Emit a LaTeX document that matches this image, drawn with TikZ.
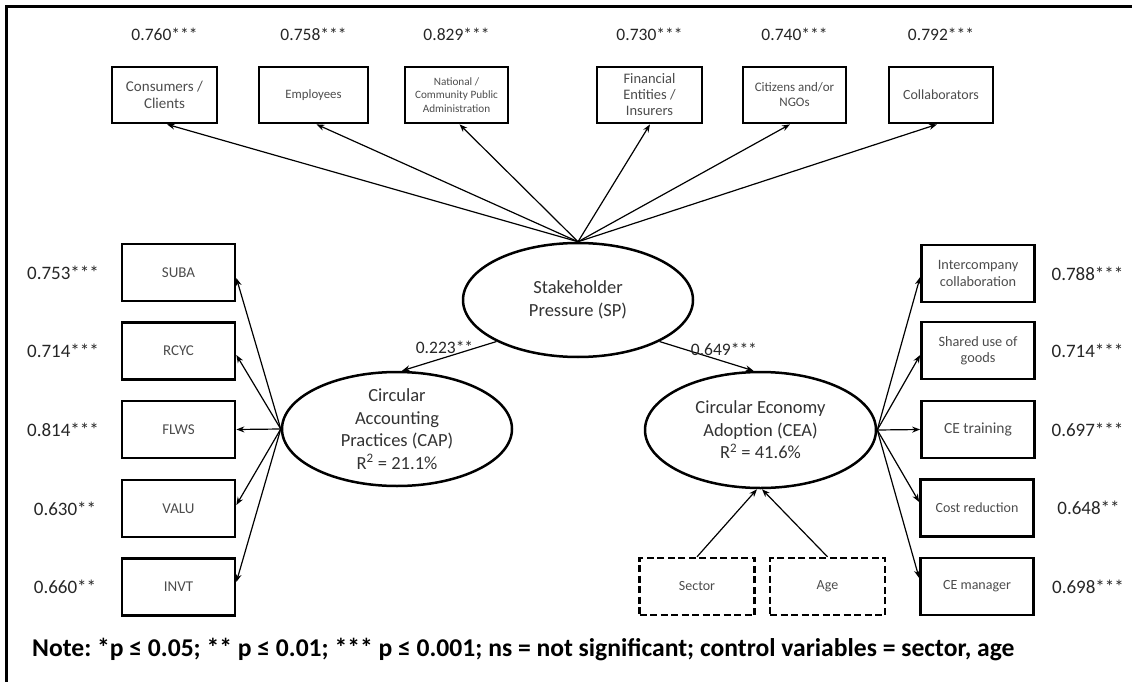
\documentclass[tikz,border=0pt]{standalone}
\usepackage{fontspec}
\setmainfont{Carlito}
\usetikzlibrary{arrows.meta,shapes.geometric}
\newcommand{\fs}[1]{\fontsize{#1}{1.15\dimexpr#1pt\relax}\selectfont}
\tikzset{
  mbox/.style={draw, line width=2.7pt, minimum width=105pt, minimum height=56pt, align=center, inner sep=1pt, text=black!70, font=\fs{12.5}},
  sbox/.style={mbox, minimum width=113pt, minimum height=57pt},
  cbox/.style={draw, line width=2.4pt, dash pattern=on 7pt off 3.5pt, minimum width=115pt, minimum height=57pt, align=center, inner sep=1pt, text=black!70, font=\fs{14}},
  lat/.style={draw, ellipse, line width=2.5pt, minimum width=230pt, minimum height=114pt, align=center, inner sep=0pt, text=black!80, font=\fontsize{18.5}{22.5}\selectfont},
  arr/.style={-{Stealth[length=8pt,width=6pt]}, line width=1.2pt},
  lab/.style={font=\fontsize{17.5}{20}\selectfont, inner sep=0pt, text=black!85},
  slab/.style={font=\fontsize{19}{22}\selectfont, inner sep=0pt, text=black!85},
}
\begin{document}
\frenchspacing
\begin{tikzpicture}[x=1pt,y=-1pt]
\useasboundingbox (0,0) rectangle (1132,682);
% frame (only left and top edges visible)
\draw[line width=3pt] (6,682) -- (6,7) -- (1132,7);

% latent variables
\node[lat] (SP) at (578,300) {Stakeholder\\Pressure (SP)};
\node[lat] (CAP) at (397,429) {Circular\\Accounting\\Practices (CAP)\\R\textsuperscript{2} = 21.1\%};
\node[lat, minimum height=116pt, minimum width=231pt] (CEA) at (760.5,430) {Circular Economy\\Adoption (CEA)\\R\textsuperscript{2} = 41.6\%};

% top indicators
\node[mbox, font=\fs{15}] (t1) at (164.5,95) {Consumers /\\Clients};
\node[mbox, minimum width=109pt, font=\fs{12.8}] (t2) at (313.5,95) {Employees};
\node[mbox, minimum width=103pt, font=\fontsize{11.2}{13.2}\selectfont] (t3) at (456.5,95) {National /\\Community Public\\Administration};
\node[mbox, font=\fontsize{14.5}{16}\selectfont] (t4) at (649.5,95) {Financial\\Entities /\\Insurers};
\node[mbox, minimum width=103pt, font=\fs{13}] (t5) at (794.5,95) {Citizens and/or\\NGOs};
\node[mbox, minimum width=104pt, font=\fs{14}] (t6) at (941,95) {Collaborators};

\node[lab] (lt1) at (164.5,34) {0.760***};
\node[lab] (lt2) at (313.5,34) {0.758***};
\node[lab] (lt3) at (456.5,34) {0.829***};
\node[lab] (lt4) at (649.5,34) {0.730***};
\node[lab] (lt5) at (794.5,34) {0.740***};
\node[lab] (lt6) at (941,34) {0.792***};

% left indicators
\node[sbox, font=\fs{15}] (l1) at (178.5,272.5) {SUBA};
\node[sbox, font=\fs{15}] (l2) at (178.5,351) {RCYC};
\node[sbox, font=\fs{15}] (l3) at (178.5,429.5) {FLWS};
\node[sbox, font=\fs{15}] (l4) at (178.5,508.5) {VALU};
\node[sbox, font=\fs{15}] (l5) at (178.5,587) {INVT};

\node[slab] (ll1) at (63,273) {0.753***};
\node[slab] (ll2) at (63,351) {0.714***};
\node[slab] (ll3) at (63,429.5) {0.814***};
\node[slab] (ll4) at (65,508.5) {0.630**};
\node[slab] (ll5) at (65,587) {0.660**};

% right indicators
\node[sbox, font=\fs{14.3}] (r1) at (978,273.5) {Intercompany\\collaboration};
\node[sbox, font=\fs{14.3}] (r2) at (978,350.5) {Shared use of\\goods};
\node[sbox, font=\fs{15.5}] (r3) at (978,429.5) {CE training};
\node[sbox, font=\fs{14}] (r4) at (977,508) {Cost reduction};
\node[sbox, font=\fs{14}] (r5) at (977,586.5) {CE manager};

\node[slab] (lr1) at (1087.5,273.5) {0.788***};
\node[slab] (lr2) at (1087.5,350.5) {0.714***};
\node[slab] (lr3) at (1087.5,429.5) {0.697***};
\node[slab] (lr4) at (1088.5,508) {0.648**};
\node[slab] (lr5) at (1088,586.5) {0.698***};

% control variables
\node[cbox] (sec) at (697,586.5) {Sector};
\node[cbox] (age) at (827.5,586.5) {Age};

% arrows SP -> top indicators
\draw[arr] (SP.north) -- ([xshift=2.5pt]t1.south);
\draw[arr] (SP.north) -- ([xshift=3pt]t2.south);
\draw[arr] (SP.north) -- ([xshift=3pt]t3.south);
\draw[arr] (SP.north) -- ([xshift=0.5pt]t4.south);
\draw[arr] (SP.north) -- ([xshift=-4.5pt]t5.south);
\draw[arr] (SP.north) -- ([xshift=-4pt]t6.south);

% structural paths
\draw[arr] (SP.207) -- ([xshift=5pt]CAP.north) node[pos=0.55, above, lab, yshift=3pt, xshift=0pt] (p1) {0.223**};
\draw[arr] (SP.-27) -- ([xshift=-7pt]CEA.north) node[pos=0.6, above, lab, yshift=3pt, xshift=8pt] (p2) {0.649***};

% CAP -> left indicators
\draw[arr] (CAP.west) -- ([yshift=-5.5pt]l1.east);
\draw[arr] (CAP.west) -- ([yshift=-4pt]l2.east);
\draw[arr] (CAP.west) -- (l3.east);
\draw[arr] (CAP.west) -- ([yshift=3.5pt]l4.east);
\draw[arr] (CAP.west) -- ([yshift=5pt]l5.east);

% CEA -> right indicators
\draw[arr] (CEA.east) -- ([yshift=-3.5pt]r1.west);
\draw[arr] (CEA.east) -- ([yshift=-4.5pt]r2.west);
\draw[arr] (CEA.east) -- (r3.west);
\draw[arr] (CEA.east) -- ([yshift=6pt]r4.west);
\draw[arr] (CEA.east) -- ([yshift=8.5pt]r5.west);

% controls -> CEA
\draw[arr] (sec.north) -- ([xshift=-3.5pt]CEA.south);
\draw[arr] (age.north) -- ([xshift=1.5pt]CEA.south);

% note
\node[anchor=west, inner sep=0pt, font=\bfseries\fontsize{25.6}{29}\selectfont] (note) at (32,650) {Note: *p ≤ 0.05; ** p ≤ 0.01; *** p ≤ 0.001; ns = not significant; control variables = sector, age};
\end{tikzpicture}
\end{document}
